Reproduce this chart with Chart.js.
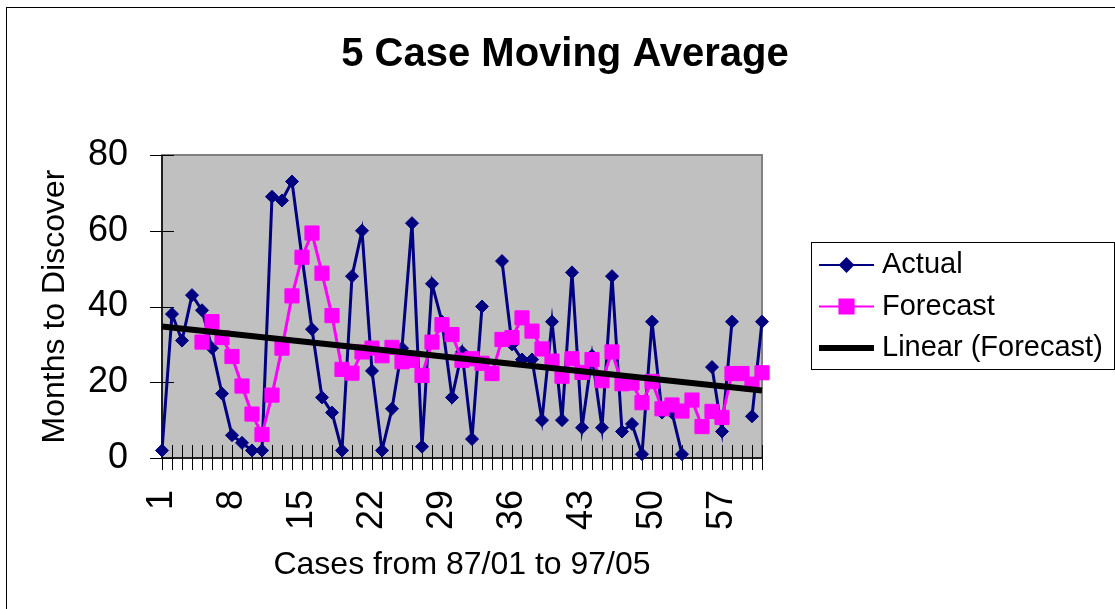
<!DOCTYPE html>
<html>
<head>
<meta charset="utf-8">
<title>5 Case Moving Average</title>
<script src="https://cdn.jsdelivr.net/npm/chart.js@4.4.1/dist/chart.umd.min.js"></script>
<style>
  html, body { margin: 0; padding: 0; background: #fff; }
  canvas { display: block; }
</style>
</head>
<body>
<canvas id="ma-chart" width="1115" height="609"></canvas>
<script>
// Cases 1..61 (87/01 to 97/05)
const caseLabels = Array.from({ length: 61 }, (_, i) => String(i + 1));

// Months to discover (null = blank cell, line breaks there)
const actualMonths = [
  2, 38, 31, 43, 39, 29, 17, 6, 4, 2,
  2, 69, 68, 73, 53, 34, 16, 12, 2, 48,
  60, 23, 2, 13, 29, 62, 3, 46, 36, 16,
  28, 5, 40, null, 52, 30, 26, 26, 10, 36,
  10, 49, 8, 27, 8, 48, 7, 9, 1, 36,
  12, 12, 1, null, null, 24, 7, 36, null, 11,
  36
];

// 5 case moving average series as plotted
const forecastMonths = [
  null, null, null, null, 30.6, 36, 31.8, 26.8, 19, 11.6,
  6.2, 16.6, 29, 42.8, 53, 59.4, 48.8, 37.6, 23.4, 22.4,
  28, 29, 27, 29.2, 25.4, 25.8, 21.8, 30.6, 35.2, 32.6,
  25.8, 26.2, 25, 22.3, 31.3, 31.8, 37, 33.5, 28.8, 25.6,
  21.6, 26.2, 22.6, 26, 20.4, 28, 19.6, 19.8, 14.6, 20.2,
  13, 14, 12.4, 15.3, 8.3, 12.3, 10.7, 22.3, 22.3, 19.5,
  22.5
];

// linear trendline of the forecast: only its two end values
const trendMonths = caseLabels.map(() => null);
trendMonths[0] = 34.7;
trendMonths[60] = 17.8;

const yTicks = [0, 20, 40, 60, 80];

const FONT = 'Arial, "Liberation Sans", sans-serif';

// background, plot area, cross tick marks, title and legend (Excel look)
const excelFrame = {
    id: 'excelFrame',
    beforeDraw(chart) {
        const { ctx, chartArea: a } = chart;
        ctx.save();
        ctx.fillStyle = '#fff';
        ctx.fillRect(0, 0, chart.width, chart.height);
        // outer chart border
        ctx.strokeStyle = '#000';
        ctx.lineWidth = 1;
        ctx.strokeRect(6.5, 7.5, chart.width + 10, chart.height + 10);
        // plot area
        ctx.fillStyle = '#c0c0c0';
        ctx.fillRect(a.left, a.top, a.right - a.left, a.bottom - a.top);
        ctx.strokeStyle = '#808080';
        ctx.lineWidth = 2;
        ctx.strokeRect(a.left, a.top, a.right - a.left, a.bottom - a.top);
        ctx.restore();
    },
    beforeDatasetsDraw(chart) {
        const { ctx, chartArea: a, scales: { x, y } } = chart;
        ctx.save();
        ctx.strokeStyle = '#000';
        ctx.lineWidth = 1.5;
        ctx.beginPath();
        ctx.moveTo(a.left, a.top);
        ctx.lineTo(a.left, a.bottom);
        ctx.lineTo(a.right, a.bottom);
        ctx.stroke();
        ctx.lineWidth = 1;
        ctx.beginPath();
        yTicks.forEach(v => {
            const py = Math.round(y.getPixelForValue(v)) + 0.5;
            ctx.moveTo(a.left - 12, py);
            ctx.lineTo(a.left + 12, py);
        });
        caseLabels.forEach((_, i) => {
            const px = Math.round(x.getPixelForValue(i)) + 0.5;
            ctx.moveTo(px, a.bottom - 13);
            ctx.lineTo(px, a.bottom + 12);
        });
        ctx.stroke();
        ctx.restore();
    },
    afterDraw(chart) {
        const { ctx } = chart;
        ctx.save();
        // title
        ctx.fillStyle = '#000';
        ctx.font = 'bold 40px ' + FONT;
        ctx.textAlign = 'center';
        ctx.textBaseline = 'middle';
        ctx.fillText('5 Case Moving Average', 565, 55);

        // legend
        const box = { x: 811.5, y: 242.5, w: 303, h: 127 };
        ctx.fillStyle = '#fff';
        ctx.fillRect(box.x, box.y, box.w, box.h);
        ctx.strokeStyle = '#000';
        ctx.lineWidth = 1;
        ctx.strokeRect(box.x, box.y, box.w, box.h);

        ctx.font = '29px ' + FONT;
        ctx.textAlign = 'left';
        chart.data.datasets.forEach((ds, i) => {
            const ly = 265 + i * 41.5;
            ctx.strokeStyle = ds.borderColor;
            ctx.lineWidth = ds.legendLineWidth;
            ctx.beginPath();
            ctx.moveTo(819, ly);
            ctx.lineTo(874, ly);
            ctx.stroke();
            if (ds.pointRadius > 0) {
                ctx.fillStyle = ds.backgroundColor;
                ctx.strokeStyle = ds.borderColor;
                Chart.helpers.drawPoint(ctx, {
                    pointStyle: ds.pointStyle,
                    radius: ds.legendPointRadius,
                    borderWidth: 1,
                    rotation: 0
                }, 846.5, ly);
            }
            ctx.fillStyle = '#000';
            ctx.fillText(ds.label, 882, ly);
        });
        ctx.restore();
    }
};

const ctx = document.getElementById('ma-chart');
new Chart(ctx, {
    type: 'line',
    data: {
        labels: caseLabels,
        datasets: [
            {
                label: 'Actual',
                data: actualMonths,
                borderColor: '#000080',
                backgroundColor: '#000080',
                borderWidth: 3,
                pointStyle: 'rectRot',
                pointRadius: 6.5,
                pointBorderWidth: 1,
                legendLineWidth: 2,
                legendPointRadius: 6.5,
                clip: false,
                order: 2
            },
            {
                label: 'Forecast',
                data: forecastMonths,
                borderColor: '#ff00ff',
                backgroundColor: '#ff00ff',
                borderWidth: 3,
                pointStyle: 'rect',
                pointRadius: 10,
                pointBorderWidth: 1,
                legendLineWidth: 2,
                legendPointRadius: 10,
                clip: false,
                order: 1
            },
            {
                label: 'Linear (Forecast)',
                data: trendMonths,
                borderColor: '#000',
                backgroundColor: '#000',
                borderWidth: 6,
                pointRadius: 0,
                spanGaps: true,
                legendLineWidth: 6,
                clip: false,
                order: 0
            }
        ]
    },
    options: {
        responsive: false,
        animation: false,
        events: [],
        layout: { padding: { left: 0, top: 155, right: 353, bottom: 0 } },
        plugins: {
            legend: { display: false },
            title: { display: false },
            tooltip: { enabled: false }
        },
        scales: {
            x: {
                type: 'category',
                offset: false,
                grid: { display: false, drawTicks: false },
                border: { display: false },
                ticks: {
                    autoSkip: false,
                    minRotation: 90,
                    maxRotation: 90,
                    padding: 32,
                    color: '#000',
                    font: { family: FONT, size: 36 },
                    callback(value, index) {
                        return index % 7 === 0 ? caseLabels[index] : '';
                    }
                },
                title: {
                    display: true,
                    text: 'Cases from 87/01 to 97/05',
                    color: '#000',
                    font: { family: FONT, size: 32 },
                    padding: { top: 0, bottom: 25 }
                },
                afterFit(scale) { scale.height = 151; }
            },
            y: {
                min: 0,
                max: 80,
                grid: { display: false, drawTicks: false },
                border: { display: false },
                ticks: {
                    stepSize: 20,
                    padding: 34,
                    color: '#000',
                    font: { family: FONT, size: 36 }
                },
                title: {
                    display: true,
                    text: 'Months to Discover',
                    color: '#000',
                    font: { family: FONT, size: 32 },
                    padding: { top: 36, bottom: 0 }
                },
                afterFit(scale) { scale.width = 162; }
            }
        }
    },
    plugins: [excelFrame]
});
</script>
</body>
</html>
